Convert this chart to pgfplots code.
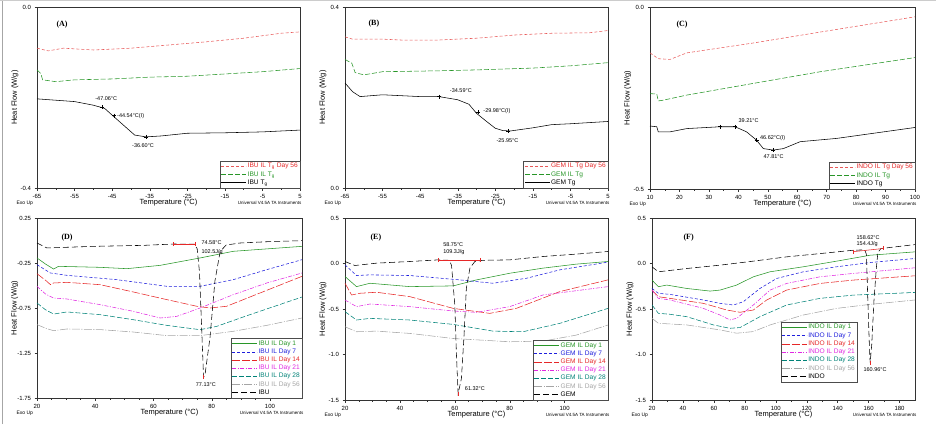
\documentclass[border=0pt]{standalone}
\usepackage{pgfplots}
\pgfplotsset{compat=1.18}
\usepackage{fontspec}
\setmainfont{Liberation Sans}
\newfontfamily\serifb{Liberation Serif}
\definecolor{tred}{RGB}{230,40,40}
\definecolor{tlred}{RGB}{232,90,90}
\definecolor{tgreen}{RGB}{40,150,40}
\definecolor{tblue}{RGB}{30,30,220}
\definecolor{tmag}{RGB}{225,40,225}
\definecolor{tteal}{RGB}{0,130,120}
\definecolor{tgray}{RGB}{165,165,165}
\pgfplotsset{
  tapanel/.style={
    scale only axis, anchor=south west, clip=false,
    axis line style={black!80, line width=0.5pt},
    tick align=outside, xtick pos=bottom, ytick pos=left,
    major tick length=2.5pt, minor tick length=1.5pt,
    tick style={black!80, line width=0.4pt},
    ticklabel style={font=\fontsize{6}{6}\selectfont},
    /pgf/number format/assume math mode=true,
    xlabel={Temperature (°C)}, ylabel={Heat Flow (W/g)},
    label style={font=\fontsize{7.5}{8}\selectfont},
    xlabel style={at={(axis description cs:0.5,0)}, anchor=center, yshift=-15pt},
    ylabel style={at={(axis description cs:-0.084,0.5)}, anchor=center},
    legend cell align=left,
    legend style={draw=black!70, line width=0.4pt, fill=white,
      font=\fontsize{6.6}{6.6}\selectfont, inner sep=1pt,
      nodes={inner sep=1.05pt, anchor=west},
      at={(1,0)}, anchor=south east,
      /tikz/every even column/.append style={column sep=4pt}},
    legend image code/.code={\draw[##1] (0pt,0pt) -- (25pt,0pt);},
    every axis plot/.append style={line width=0.55pt, mark=none},
  },
  dash1/.style={dash pattern=on 3pt off 2pt},
  dash2/.style={dash pattern=on 5pt off 2pt},
  dash3/.style={dash pattern=on 8pt off 2pt},
  dashdot/.style={dash pattern=on 4pt off 1.5pt on 1pt off 1.5pt},
  longdashdot/.style={dash pattern=on 8pt off 1.5pt on 1pt off 1.5pt},
  blackdash/.style={dash pattern=on 6pt off 3pt},
}
\newcommand{\exoup}{\node[anchor=west, font=\fontsize{5}{5}\selectfont] at (rel axis cs:0,0) [xshift=-24pt, yshift=-15pt] {Exo Up};
  \node[anchor=east, font=\fontsize{4.5}{5}\selectfont] at (rel axis cs:1,0) [xshift=5pt, yshift=-15pt] {Universal V4.5A TA Instruments};}
\newcommand{\plabel}[3]{\node[anchor=west, font=\serifb\bfseries\fontsize{8}{8}\selectfont] at (rel axis cs:0,1) [xshift=#2, yshift=#3] {#1};}
\begin{document}
\begin{tikzpicture}[x=1pt,y=1pt]
\useasboundingbox (0,0) rectangle (936,424);
\draw[black!35, line width=0.8pt] (2.5,0) -- (2.5,424);
\draw[black!20, line width=0.6pt] (0,423.5) -- (936,423.5);
% ---------------- (A)
\begin{axis}[tapanel, at={(37pt,236pt)}, width=263pt, height=181pt,
  xmin=-65, xmax=5, ymin=-0.4, ymax=0,
  xtick={-65,-55,-45,-35,-25,-15,-5,5}, minor x tick num=1,
  ytick={-0.4,0}, yticklabels={-0.4,0.0}]
\addplot[tlred, dash1] coordinates {(-65,-0.091) (-62,-0.097) (-58,-0.091) (-50,-0.095) (-40,-0.091) (-30,-0.084) (-20,-0.077) (-10,-0.069) (0,-0.058) (5,-0.055)};
\addlegendentry{\textcolor{tred}{IBU IL T\textsubscript{g} Day 56}}
\addplot[tgreen, dash2] coordinates {(-65,-0.139) (-64,-0.147) (-63.5,-0.161) (-60,-0.165) (-55,-0.161) (-45,-0.159) (-35,-0.155) (-25,-0.153) (-15,-0.148) (-5,-0.143) (5,-0.136)};
\addlegendentry{\textcolor{tgreen}{IBU IL T\textsubscript{g}}}
\addplot[black] coordinates {(-65,-0.203) (-60,-0.206) (-55,-0.209) (-50,-0.217) (-47,-0.224) (-45,-0.239) (-42,-0.261) (-39,-0.283) (-36,-0.287) (-32,-0.285) (-25,-0.279) (-15,-0.278) (-5,-0.276) (5,-0.272)};
\addlegendentry{IBU T\textsubscript{g}}
\addplot[black, only marks, mark=+, mark size=2pt, forget plot] coordinates {(-47.6,-0.222) (-44.5,-0.240) (-36,-0.287)};
\node[anchor=west, font=\fontsize{5.5}{6}\selectfont] at (axis cs:-50.4,-0.203) {-47.06°C};
\node[anchor=west, font=\fontsize{5.5}{6}\selectfont] at (axis cs:-44.6,-0.241) {-44.54°C(I)};
\node[anchor=west, font=\fontsize{5.5}{6}\selectfont] at (axis cs:-40.6,-0.307) {-36.60°C};
\plabel{(A)}{16pt}{-18pt}
\exoup
\end{axis}
% ---------------- (B)
\begin{axis}[tapanel, at={(345pt,236pt)}, width=263pt, height=181pt,
  xmin=-65, xmax=5, ymin=0, ymax=0.4,
  xtick={-65,-55,-45,-35,-25,-15,-5,5}, minor x tick num=1,
  ytick={0,0.4}, yticklabels={0.0,0.4}]
\addplot[tlred, dash1] coordinates {(-65,0.334) (-63,0.329) (-55,0.329) (-50,0.327) (-40,0.327) (-30,0.331) (-20,0.338) (-10,0.342) (0,0.343) (5,0.348)};
\addlegendentry{\textcolor{tred}{GEM IL Tg Day 56}}
\addplot[tgreen, dash2] coordinates {(-65,0.284) (-63.2,0.276) (-62.3,0.255) (-60,0.250) (-55,0.257) (-40,0.259) (-30,0.261) (-15,0.265) (-5,0.270) (5,0.277)};
\addlegendentry{\textcolor{tgreen}{GEM IL Tg}}
\addplot[black] coordinates {(-65,0.232) (-63,0.213) (-61,0.202) (-55,0.206) (-50,0.204) (-45,0.202) (-40,0.202) (-35,0.195) (-32,0.185) (-30,0.165) (-27,0.145) (-25,0.132) (-23,0.127) (-21,0.126) (-15,0.133) (-10,0.140) (-5,0.142) (5,0.147)};
\addlegendentry{GEM Tg}
\addplot[black, only marks, mark=+, mark size=2pt, forget plot] coordinates {(-40,0.202) (-29.5,0.168) (-21.5,0.126)};
\node[anchor=west, font=\fontsize{5.5}{6}\selectfont] at (axis cs:-38,0.215) {-34.59°C};
\node[anchor=west, font=\fontsize{5.5}{6}\selectfont] at (axis cs:-29.1,0.171) {-29.98°C(I)};
\node[anchor=west, font=\fontsize{5.5}{6}\selectfont] at (axis cs:-25.6,0.105) {-25.95°C};
\plabel{(B)}{20pt}{-17pt}
\exoup
\end{axis}
% ---------------- (C)
\begin{axis}[tapanel, at={(650pt,235pt)}, width=265pt, height=182pt,
  xmin=10, xmax=100, ymin=-0.5, ymax=0,
  xtick={10,20,...,100}, minor x tick num=1,
  ytick={-0.5,0}, yticklabels={-0.5,0.0}]
\addplot[tlred, dash1] coordinates {(10,-0.126) (12.8,-0.142) (16.8,-0.144) (22.5,-0.126) (45,-0.099) (67.7,-0.069) (100,-0.027)};
\addlegendentry{\textcolor{tred}{INDO IL Tg Day 56}}
\addplot[tgreen, dash2] coordinates {(10,-0.238) (12.3,-0.239) (12.8,-0.258) (14.5,-0.256) (22.5,-0.242) (45,-0.210) (67.7,-0.178) (100,-0.139)};
\addlegendentry{\textcolor{tgreen}{INDO IL Tg}}
\addplot[black] coordinates {(10,-0.327) (12.3,-0.329) (12.8,-0.343) (16.8,-0.343) (22.5,-0.334) (33.8,-0.329) (38.9,-0.329) (42.8,-0.343) (46.2,-0.366) (48.5,-0.389) (51.9,-0.393) (55.3,-0.389) (61,-0.370) (73.4,-0.361) (100,-0.331)};
\addlegendentry{INDO Tg}
\addplot[black, only marks, mark=+, mark size=2pt, forget plot] coordinates {(33.8,-0.329) (38.9,-0.329) (46.2,-0.366) (51.9,-0.393)};
\node[anchor=west, font=\fontsize{5.5}{6}\selectfont] at (axis cs:38.9,-0.313) {39.21°C};
\node[anchor=west, font=\fontsize{5.5}{6}\selectfont] at (axis cs:46.2,-0.359) {46.62°C(I)};
\node[anchor=west, font=\fontsize{5.5}{6}\selectfont] at (axis cs:47.4,-0.411) {47.81°C};
\plabel{(C)}{23pt}{-18pt}
\exoup
\end{axis}
% ---------------- (D)
\begin{axis}[tapanel, at={(37pt,26pt)}, width=265pt, height=180pt,
  xmin=20, xmax=111, ymin=-1.75, ymax=0.25,
  xtick={20,40,60,80,100}, minor x tick num=3,
  ytick={-1.75,-1.25,-0.75,-0.25,0.25}, yticklabels={-1.75,-1.25,-0.75,-0.25,0.25}]
\addplot[tgreen] coordinates {(20,-0.194) (22.9,-0.261) (25.7,-0.317) (27.4,-0.287) (41.7,-0.298) (50.9,-0.313) (62.3,-0.276) (76,-0.194) (87.4,-0.12) (111,-0.065)};
\addlegendentry{\textcolor{tgreen}{IBU IL Day 1}}
\addplot[tblue, dash1] coordinates {(20,-0.269) (24.6,-0.361) (30.3,-0.387) (47.4,-0.435) (64.6,-0.509) (76,-0.509) (87.4,-0.435) (98.9,-0.324) (111,-0.213)};
\addlegendentry{\textcolor{tblue}{IBU IL Day 7}}
\addplot[tred, dash3] coordinates {(20,-0.369) (23.4,-0.454) (24.6,-0.491) (25.7,-0.472) (30.3,-0.465) (41.7,-0.491) (53.1,-0.572) (64.6,-0.657) (74.9,-0.731) (79.4,-0.75) (85.1,-0.731) (96.6,-0.583) (111,-0.398)};
\addlegendentry{\textcolor{tred}{IBU IL Day 14}}
\addplot[tmag, dashdot] coordinates {(20,-0.509) (22.9,-0.594) (25.7,-0.639) (30.3,-0.65) (41.7,-0.713) (53.1,-0.787) (62.3,-0.861) (68,-0.843) (76,-0.75) (87.4,-0.602) (98.9,-0.472) (111,-0.361)};
\addlegendentry{\textcolor{tmag}{IBU IL Day 21}}
\addplot[tteal, dash2] coordinates {(20,-0.694) (22.9,-0.769) (25.7,-0.817) (30.3,-0.794) (41.7,-0.824) (53.1,-0.88) (64.6,-0.943) (76,-0.991) (81.7,-0.954) (93.1,-0.824) (111,-0.628)};
\addlegendentry{\textcolor{tteal}{IBU IL Day 28}}
\addplot[tgray, longdashdot] coordinates {(20,-0.935) (23.4,-0.98) (25.7,-1.002) (30.3,-0.983) (41.7,-0.99) (53.1,-1.017) (64.6,-1.057) (76,-1.057) (87.4,-1.009) (98.9,-0.943) (111,-0.861)};
\addlegendentry{\textcolor{tgray}{IBU IL Day 56}}
\addplot[black, blackdash] coordinates {(20,-0.028) (23.4,-0.083) (39.4,-0.065) (56.6,-0.054) (66.9,-0.039) (74,-0.04) (75,-0.09) (75.8,-0.35) (76.6,-1.02) (77.2,-1.52) (77.7,-1.49) (79.4,-1.08) (81.1,-0.45) (82.9,-0.12) (85,-0.05) (89.7,-0.028) (100,-0.012) (111,-0.002)};
\addlegendentry{IBU}
\addplot[tred, mark=|, mark size=2pt, forget plot] coordinates {(66.9,-0.039) (74.3,-0.039)};
\addplot[tred, only marks, mark=|, mark size=2pt, forget plot] coordinates {(77.2,-1.52)};
\node[anchor=west, font=\fontsize{5.5}{6}\selectfont] at (axis cs:75.3,-0.024) {74.58°C};
\node[anchor=west, font=\fontsize{5.5}{6}\selectfont] at (axis cs:75.3,-0.124) {102.5J/g};
\node[anchor=center, font=\fontsize{5.5}{6}\selectfont] at (axis cs:78,-1.6) {77.13°C};
\plabel{(D)}{21pt}{-20pt}
\exoup
\end{axis}
% ---------------- (E)
\begin{axis}[tapanel, at={(345pt,24pt)}, width=263pt, height=182pt,
  xmin=20, xmax=115.8, ymin=-1.5, ymax=0.5,
  xtick={20,40,60,80,100}, minor x tick num=3,
  ytick={-1.5,-1,-0.5,0,0.5}, yticklabels={-1.5,-1.0,-0.5,0.0,0.5}]
\addplot[tgreen] coordinates {(20,-0.143) (24.2,-0.254) (29.1,-0.217) (43.6,-0.254) (59.4,-0.246) (67.9,-0.18) (80,-0.107) (92.1,-0.051) (104.2,-0.007) (115.8,0.022)};
\addlegendentry{\textcolor{tgreen}{GEM IL Day 1}}
\addplot[tblue, dash1] coordinates {(20,-0.015) (24.2,-0.132) (29.1,-0.125) (43.6,-0.132) (61.8,-0.18) (73.9,-0.217) (86.1,-0.162) (98.2,-0.07) (115.8,0.015)};
\addlegendentry{\textcolor{tblue}{GEM IL Day 7}}
\addplot[tred, dash3] coordinates {(20,-0.217) (22.4,-0.346) (25.5,-0.327) (31.5,-0.316) (43.6,-0.364) (59.4,-0.493) (72.7,-0.548) (82.4,-0.493) (98.2,-0.309) (115.8,-0.18)};
\addlegendentry{\textcolor{tred}{GEM IL Day 14}}
\addplot[tmag, dashdot] coordinates {(20,-0.401) (24.2,-0.474) (29.1,-0.445) (43.6,-0.474) (59.4,-0.522) (67.9,-0.537) (80,-0.474) (92.1,-0.346) (115.8,-0.254)};
\addlegendentry{\textcolor{tmag}{GEM IL Day 21}}
\addplot[tteal, dash2] coordinates {(20,-0.529) (24.2,-0.621) (29.1,-0.603) (43.6,-0.621) (59.4,-0.669) (73.9,-0.743) (84.8,-0.75) (98.2,-0.658) (115.8,-0.493)};
\addlegendentry{\textcolor{tteal}{GEM IL Day 28}}
\addplot[tgray, longdashdot] coordinates {(20,-0.695) (24.2,-0.75) (31.5,-0.743) (43.6,-0.768) (59.4,-0.824) (80,-0.86) (92.1,-0.853) (104.2,-0.787) (115.8,-0.676)};
\addlegendentry{\textcolor{tgray}{GEM IL Day 56}}
\addplot[black, blackdash] coordinates {(20,0.022) (23.6,-0.022) (31.5,0.004) (43.6,0.022) (53.9,0.040) (58,0.035) (58.8,-0.02) (60,-0.456) (60.6,-1.007) (61.2,-1.43) (62.4,-1.265) (63.3,-0.824) (64.2,-0.272) (65.5,-0.051) (67.3,0.022) (70,0.035) (80,0.04) (92.1,0.077) (104.2,0.103) (115.8,0.132)};
\addlegendentry{GEM}
\addplot[tred, mark=|, mark size=2pt, forget plot] coordinates {(53.9,0.04) (69.1,0.04)};
\addplot[tred, only marks, mark=|, mark size=2pt, forget plot] coordinates {(61.2,-1.43)};
\node[anchor=west, font=\fontsize{5.5}{6}\selectfont] at (axis cs:54.5,0.213) {58.75°C};
\node[anchor=west, font=\fontsize{5.5}{6}\selectfont] at (axis cs:54.5,0.125) {109.3J/g};
\node[anchor=west, font=\fontsize{5.5}{6}\selectfont] at (axis cs:62.4,-1.375) {61.32°C};
\plabel{(E)}{22pt}{-20pt}
\exoup
\end{axis}
% ---------------- (F)
\begin{axis}[tapanel, at={(652pt,24pt)}, width=263pt, height=182pt,
  xmin=20, xmax=190, ymin=-1.5, ymax=0.5,
  xtick={20,40,...,180}, minor x tick num=1,
  ytick={-1.5,-1,-0.5,0,0.5}, yticklabels={-1.5,-1.0,-0.5,0.0,0.5},
  legend style={at={(0.78,0.099)}, anchor=south east}]
\addplot[tgreen] coordinates {(20,-0.182) (24.1,-0.255) (29.5,-0.237) (42.4,-0.274) (57.5,-0.303) (64,-0.292) (74.7,-0.237) (85.5,-0.146) (96.3,-0.091) (117.8,-0.036) (139.4,0.026) (161,0.091) (190,0.128)};
\addlegendentry{\textcolor{tgreen}{INDO IL Day 1}}
\addplot[tblue, dash1] coordinates {(20,-0.274) (24.1,-0.328) (31.6,-0.339) (53.2,-0.401) (64,-0.438) (72.6,-0.456) (79,-0.42) (89.8,-0.274) (100.6,-0.164) (117.8,-0.091) (139.4,-0.036) (161,0.011) (190,0.055)};
\addlegendentry{\textcolor{tblue}{INDO IL Day 7}}
\addplot[tred, dash3] coordinates {(20,-0.292) (24.1,-0.365) (31.6,-0.383) (53.2,-0.438) (68.3,-0.511) (76.9,-0.536) (85.5,-0.511) (94.1,-0.401) (107,-0.292) (128.6,-0.219) (150.2,-0.182) (190,-0.135)};
\addlegendentry{\textcolor{tred}{INDO IL Day 14}}
\addplot[tmag, dashdot] coordinates {(20,-0.292) (24.1,-0.383) (31.6,-0.401) (53.2,-0.493) (64,-0.566) (70.4,-0.62) (74.7,-0.602) (85.5,-0.456) (96.3,-0.292) (107,-0.219) (128.6,-0.146) (150.2,-0.109) (190,-0.047)};
\addlegendentry{\textcolor{tmag}{INDO IL Day 21}}
\addplot[tteal, dash2] coordinates {(20,-0.456) (24.1,-0.547) (31.6,-0.558) (42.4,-0.584) (59.7,-0.675) (70.4,-0.712) (76.9,-0.704) (89.8,-0.584) (107,-0.456) (128.6,-0.383) (150.2,-0.347) (190,-0.318)};
\addlegendentry{\textcolor{tteal}{INDO IL Day 28}}
\addplot[tgray, longdashdot] coordinates {(20,-0.602) (24.1,-0.657) (42.4,-0.675) (64,-0.73) (74.7,-0.766) (85.5,-0.748) (96.3,-0.675) (117.8,-0.566) (139.4,-0.493) (161,-0.449) (190,-0.401)};
\addlegendentry{\textcolor{tgray}{INDO IL Day 56}}
\addplot[black, blackdash] coordinates {(20,-0.036) (24.1,-0.091) (42.4,-0.055) (64,-0.018) (85.5,0.026) (107,0.073) (128.6,0.109) (150.2,0.146) (157.5,0.15) (158.6,0.1) (159.5,-0.4) (160.5,-0.9) (161,-1.09) (162,-0.9) (163.5,-0.4) (165,-0.05) (166,0.12) (168,0.165) (171.7,0.172) (190,0.208)};
\addlegendentry{INDO}
\addplot[tred, mark=|, mark size=2pt, forget plot] coordinates {(150,0.13) (169.5,0.165)};
\addplot[tred, only marks, mark=|, mark size=2pt, forget plot] coordinates {(161,-1.09)};
\node[anchor=west, font=\fontsize{5.5}{6}\selectfont] at (axis cs:150,0.29) {158.62°C};
\node[anchor=west, font=\fontsize{5.5}{6}\selectfont] at (axis cs:150,0.214) {154.4J/g};
\node[anchor=west, font=\fontsize{5.5}{6}\selectfont] at (axis cs:154.5,-1.17) {160.96°C};
\plabel{(F)}{28pt}{-20pt}
\exoup
\end{axis}
\end{tikzpicture}
\end{document}
